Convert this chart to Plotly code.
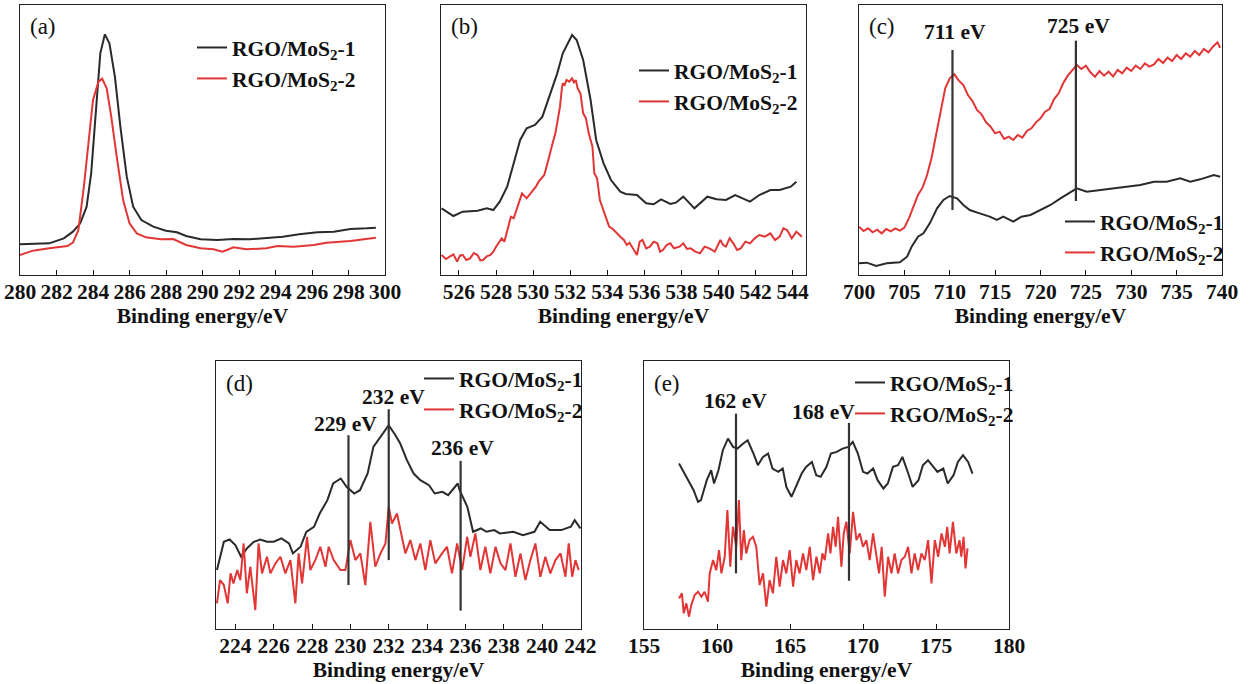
import plotly.graph_objects as go

# ---------------- data (intensity in arbitrary units) ----------------
# (a) C 1s
a_x1 = [280.0, 281.6, 282.4, 282.9, 283.3, 283.65, 283.9, 284.2, 284.4, 284.65, 284.9, 285.2, 285.5, 285.85,
        286.2, 286.65, 287.3, 288.0, 288.6, 289.1, 289.9, 290.8, 291.7, 292.6, 293.5, 294.4, 295.3, 296.3,
        297.2, 298.1, 299.0, 299.5]
a_y1 = [92, 95, 110, 130, 155, 205, 305, 525, 665, 722, 695, 595, 445, 295,
        205, 165, 145, 133, 128, 117, 107, 105, 108, 107, 110, 115, 122, 128,
        130, 138, 140, 142]
a_x2 = [280.0, 280.7, 281.6, 282.6, 282.9, 283.2, 283.5, 283.75, 284.0, 284.3, 284.5, 284.75, 285.0, 285.3,
        285.65, 286.0, 286.4, 286.9, 287.7, 288.4, 289.1, 289.9, 290.6, 291.1, 291.7, 292.4, 293.5, 294.1,
        295.0, 296.1, 296.8, 298.1, 299.5]
a_y2 = [60, 73, 80, 87, 97, 135, 265, 405, 525, 580, 589, 560, 475, 355,
        225, 155, 125, 113, 107, 108, 90, 80, 77, 70, 83, 77, 80, 87,
        85, 90, 97, 102, 112]

# (b) O 1s
b_x1 = [525.06, 525.7, 526.2, 527.0, 527.5, 527.85, 528.2, 528.6, 528.9, 529.3, 529.65, 530.1, 530.5, 530.8,
        531.3, 531.6, 532.1, 532.35, 532.7, 533.1, 533.4, 533.8, 534.2, 534.7, 535.0, 535.6, 536.1, 536.5,
        536.9, 537.4, 537.7, 538.1, 538.7, 539.4, 539.9, 540.4, 540.9, 541.3, 541.7, 542.2, 542.8, 543.3,
        543.9, 544.2]
b_y1 = [200, 177, 190, 193, 200, 195, 220, 265, 325, 405, 440, 450, 475, 525,
        605, 665, 720, 705, 645, 525, 405, 335, 285, 250, 243, 240, 215, 212,
        227, 213, 217, 235, 200, 235, 227, 225, 240, 230, 220, 240, 255, 255,
        265, 280]
b_x2 = [525.06, 525.3, 525.5, 525.7, 525.9, 526.05, 526.2, 526.4, 526.6, 526.8, 527.0, 527.15, 527.3, 527.5,
        527.7, 527.85, 528.0, 528.15, 528.3, 528.45, 528.6, 528.8, 528.95, 529.1, 529.25, 529.4, 529.65, 529.8,
        530.0, 530.15, 530.3, 530.45, 530.6, 530.75, 530.9, 531.05, 531.2, 531.35, 531.45, 531.55, 531.6, 531.7,
        531.8, 531.95, 532.1, 532.2, 532.3, 532.4, 532.55, 532.7, 532.85, 533.0, 533.1, 533.2, 533.3, 533.45,
        533.6, 533.75, 533.9, 534.0, 534.1, 534.3, 534.5, 534.7, 534.9, 535.05, 535.2, 535.4, 535.6, 535.75,
        535.9, 536.1, 536.3, 536.5, 536.7, 536.85, 537.0, 537.2, 537.4, 537.6, 537.9, 538.1, 538.3, 538.5,
        538.75, 539.0, 539.25, 539.5, 539.8, 540.1, 540.25, 540.4, 540.6, 540.8, 541.0, 541.2, 541.45, 541.7,
        541.95, 542.2, 542.5, 542.8, 543.05, 543.3, 543.5, 543.7, 543.95, 544.2, 544.5]
b_y2 = [60, 48, 55, 62, 40, 58, 60, 45, 50, 66, 60, 44, 45, 56,
        60, 70, 85, 98, 110, 100, 135, 175, 170, 195, 220, 245, 230, 240,
        255, 265, 280, 290, 300, 330, 365, 395, 425, 470, 505, 560, 575, 570,
        585, 580, 590, 578, 585, 560, 545, 485, 470, 425, 400, 385, 305, 290,
        225, 200, 175, 160, 145, 138, 125, 115, 105, 90, 97, 80, 60, 100,
        105, 80, 85, 100, 95, 70, 75, 90, 95, 80, 85, 95, 78, 80,
        70, 65, 85, 80, 70, 105, 90, 85, 110, 95, 75, 80, 100, 95,
        110, 120, 115, 125, 105, 115, 140, 135, 110, 130, 115]

# (c) Fe 2p
c_x1 = [700.0, 700.85, 701.9, 703.05, 704.5, 705.3, 705.8, 706.5, 707.1, 707.8, 708.6, 709.3, 710.0, 710.8,
        711.5, 712.2, 713.3, 714.4, 715.2, 715.9, 717.0, 717.9, 718.9, 720.0, 721.1, 722.2, 723.3, 724.0,
        725.1, 726.6, 728.1, 729.5, 731.0, 732.5, 733.9, 735.4, 736.5, 737.6, 739.1, 739.8]
c_y1 = [35, 37, 27, 35, 38, 55, 85, 115, 125, 155, 200, 225, 237, 230,
        210, 195, 185, 175, 165, 175, 160, 175, 180, 195, 210, 230, 247, 260,
        250, 255, 260, 265, 270, 280, 280, 290, 280, 287, 300, 295]
c_x2 = [700.0, 700.5, 701.0, 701.5, 702.0, 702.5, 703.0, 703.5, 704.0, 704.5, 705.0, 705.5, 706.0, 706.5,
        707.0, 707.5, 708.0, 708.5, 709.0, 709.5, 710.0, 710.5, 711.0, 711.5, 712.0, 712.5, 713.0, 713.5,
        714.0, 714.5, 715.0, 715.5, 716.0, 716.5, 717.0, 717.5, 718.0, 718.5, 719.0, 719.5, 720.0, 720.5,
        721.0, 721.5, 722.0, 722.5, 723.0, 723.5, 724.0, 724.5, 725.0, 725.5, 726.0, 726.5, 727.0, 727.5,
        728.0, 728.5, 729.0, 729.5, 730.0, 730.5, 731.0, 731.5, 732.0, 732.5, 733.0, 733.5, 734.0, 734.5,
        735.0, 735.5, 736.0, 736.5, 737.0, 737.5, 738.0, 738.5, 739.0, 739.5, 739.8]
c_y2 = [145, 132, 140, 128, 136, 125, 138, 131, 140, 133, 142, 170, 205, 240,
        262, 300, 352, 420, 490, 560, 590, 602, 583, 570, 540, 522, 495, 482,
        458, 445, 425, 430, 408, 415, 405, 420, 412, 432, 440, 458, 470, 490,
        498, 528, 545, 575, 598, 615, 630, 618, 628, 608, 595, 612, 598, 610,
        596, 615, 605, 622, 612, 628, 618, 635, 625, 632, 648, 636, 652, 642,
        660, 648, 665, 655, 672, 660, 678, 668, 685, 698, 682]

# (d) Mo 3d
d_x1 = [223.04, 223.4, 223.7, 224.0, 224.3, 224.6, 224.96, 225.3, 225.65, 226.0, 226.4, 226.8, 227.0, 227.4,
        227.7, 228.1, 228.4, 228.8, 229.1, 229.5, 229.8, 230.2, 230.5, 230.9, 231.2, 231.65, 232.0, 232.35,
        232.6, 232.95, 233.3, 233.65, 234.1, 234.4, 234.8, 235.1, 235.6, 235.7, 236.1, 236.4, 236.8, 237.1,
        237.5, 237.8, 238.5, 239.0, 239.6, 239.9, 240.4, 241.0, 241.5, 241.7, 242.0]
d_y1 = [177, 262, 269, 252, 217, 242, 262, 269, 262, 262, 272, 257, 227, 247,
        292, 307, 347, 387, 437, 452, 427, 407, 417, 467, 547, 582, 612, 582,
        557, 507, 467, 447, 432, 407, 412, 402, 437, 417, 367, 292, 302, 292,
        297, 287, 292, 282, 292, 322, 297, 297, 307, 327, 302]
d_x2 = [223.04, 223.2, 223.4, 223.6, 223.75, 223.9, 224.1, 224.26, 224.43, 224.6, 224.78, 225.04, 225.21, 225.39,
        225.65, 225.83, 226.09, 226.35, 226.61, 226.87, 227.13, 227.3, 227.48, 227.74, 227.91, 228.17, 228.43, 228.7,
        228.87, 229.13, 229.48, 229.74, 230.0, 230.26, 230.52, 230.78, 231.04, 231.3, 231.57, 231.83, 232.0, 232.17,
        232.43, 232.61, 232.87, 233.13, 233.39, 233.65, 233.91, 234.17, 234.43, 234.78, 235.04, 235.3, 235.57, 235.83,
        236.09, 236.26, 236.52, 236.78, 237.04, 237.3, 237.57, 237.83, 238.09, 238.35, 238.61, 238.87, 239.13, 239.39,
        239.65, 239.91, 240.17, 240.43, 240.7, 240.96, 241.22, 241.39, 241.57, 241.74, 241.91]
d_y2 = [77, 147, 132, 77, 167, 137, 177, 147, 257, 107, 187, 57, 257, 167,
        217, 167, 197, 217, 167, 207, 77, 227, 137, 277, 177, 207, 247, 187,
        247, 207, 177, 177, 267, 207, 227, 132, 322, 187, 227, 257, 367, 317,
        347, 297, 227, 267, 207, 257, 177, 267, 197, 227, 247, 167, 257, 177,
        277, 217, 287, 177, 247, 167, 247, 197, 177, 257, 157, 227, 147, 207,
        257, 157, 217, 167, 207, 227, 157, 257, 157, 207, 177]

# (e) S 2p
e_x1 = [157.4, 157.7, 158.0, 158.4, 158.7, 158.9, 159.3, 159.6, 159.8, 160.1, 160.4, 160.75, 161.1, 161.4,
        161.8, 162.1, 162.5, 162.8, 163.15, 163.5, 163.8, 164.2, 164.5, 164.75, 165.1, 165.4, 165.8, 166.1,
        166.5, 166.8, 167.1, 167.5, 167.8, 168.2, 168.6, 169.0, 169.3, 169.65, 170.0, 170.3, 170.7, 171.0,
        171.4, 171.7, 172.05, 172.4, 172.7, 173.1, 173.4, 173.8, 174.1, 174.45, 174.8, 175.1, 175.5, 175.8,
        176.2, 176.5, 176.85, 177.2, 177.5]
e_y1 = [497, 472, 447, 417, 382, 387, 447, 477, 437, 477, 537, 572, 547, 542,
        557, 567, 527, 492, 517, 527, 482, 472, 482, 427, 397, 427, 467, 487,
        502, 462, 457, 487, 527, 532, 542, 547, 562, 527, 472, 467, 482, 447,
        422, 437, 487, 492, 517, 467, 427, 447, 492, 507, 487, 472, 482, 437,
        462, 502, 522, 502, 467]
e_x2 = [157.4, 157.6, 157.72, 157.9, 158.08, 158.24, 158.47, 158.7, 158.93, 159.15, 159.38, 159.5, 159.73, 159.95,
        160.14, 160.3, 160.53, 160.71, 160.91, 161.09, 161.32, 161.5, 161.66, 161.84, 162.0, 162.23, 162.46, 162.69,
        162.92, 163.15, 163.38, 163.6, 163.83, 164.06, 164.29, 164.52, 164.75, 164.98, 165.21, 165.43, 165.66, 165.89,
        166.12, 166.35, 166.58, 166.81, 167.04, 167.22, 167.38, 167.61, 167.77, 167.95, 168.13, 168.29, 168.52, 168.68,
        168.86, 169.09, 169.32, 169.55, 169.78, 170.0, 170.23, 170.46, 170.69, 170.92, 171.1, 171.28, 171.49, 171.72,
        171.95, 172.17, 172.4, 172.63, 172.86, 173.09, 173.32, 173.54, 173.77, 174.0, 174.23, 174.46, 174.69, 174.92,
        175.15, 175.38, 175.61, 175.77, 175.93, 176.16, 176.39, 176.61, 176.73, 176.89, 177.02, 177.16]
e_y2 = [92, 107, 47, 77, 37, 72, 102, 112, 97, 112, 82, 167, 207, 177,
        237, 167, 217, 357, 187, 307, 247, 387, 207, 297, 227, 267, 277, 247,
        132, 167, 67, 147, 107, 217, 127, 207, 167, 237, 127, 207, 167, 227,
        177, 247, 147, 217, 167, 227, 207, 287, 227, 307, 247, 337, 187, 287,
        322, 227, 352, 267, 287, 247, 267, 207, 287, 217, 167, 247, 97, 217,
        167, 227, 167, 207, 217, 247, 167, 227, 177, 227, 207, 267, 137, 267,
        217, 287, 247, 307, 227, 322, 227, 267, 217, 277, 182, 242]

# peak markers: position, line bottom, line top, label, label height
c_peak_x = [710.3, 723.9]
c_peak_lo = [195, 222]
c_peak_hi = [675, 703]
c_peak_txt = ["711 eV", "725 eV"]
c_peak_txt_y = [728, 748]
c_peak_txt_x = [710.6, 724.2]

d_peak_x = [229.9, 232.0, 235.75]
d_peak_lo = [132, 207, 55]
d_peak_hi = [582, 660, 505]
d_peak_txt = ["229 eV", "232 eV", "236 eV"]
d_peak_txt_y = [617, 697, 545]
d_peak_txt_x = [229.75, 232.25, 235.85]

e_peak_x = [161.3, 169.04]
e_peak_lo = [167, 145]
e_peak_hi = [647, 619]
e_peak_txt = ["162 eV", "168 eV"]
e_peak_txt_y = [684, 652]
e_peak_txt_x = [161.3, 167.3]

# tick labels
a_ticks = [280, 282, 284, 286, 288, 290, 292, 294, 296, 298, 300]
b_ticks = [526, 528, 530, 532, 534, 536, 538, 540, 542, 544]
c_ticks = [700, 705, 710, 715, 720, 725, 730, 735, 740]
d_ticks = [224, 226, 228, 230, 232, 234, 236, 238, 240, 242]
e_ticks = [155, 160, 165, 170, 175, 180]

series_names = ["RGO/MoS<sub>2</sub>-1", "RGO/MoS<sub>2</sub>-2"]
panel_labels = ["(a)", "(b)", "(c)", "(d)", "(e)"]
x_title = "Binding energy/eV"
x_ranges = [[280, 300], [525.03, 544.72], [700, 740], [222.99, 242.03], [155, 180]]
y_ranges = [[0, 810], [0, 810], [0, 810], [0, 805], [0, 805]]
ticks_all = [a_ticks, b_ticks, c_ticks, d_ticks, e_ticks]

# ---------------- layout geometry (pixels) ----------------
W, H = 1252, 684
boxes = [  # left, right, top, bottom
    (20, 385, 5, 275),
    (441, 806, 5, 275),
    (859, 1222, 5, 275),
    (216, 581, 361, 629),
    (644, 1009, 361, 629),
]
legend_pos = [(192, 48), (634, 71), (1060, 222), (419, 379), (850, 383)]

BLACK = "#2a2a2a"
RED = "#e23636"
FONT = "Liberation Serif, Times New Roman, serif"
FS = 21.5

fig = go.Figure()

data = [
    (a_x1, a_y1, a_x2, a_y2),
    (b_x1, b_y1, b_x2, b_y2),
    (c_x1, c_y1, c_x2, c_y2),
    (d_x1, d_y1, d_x2, d_y2),
    (e_x1, e_y1, e_x2, e_y2),
]
peaks = {
    2: (c_peak_x, c_peak_lo, c_peak_hi, c_peak_txt, c_peak_txt_y, c_peak_txt_x),
    3: (d_peak_x, d_peak_lo, d_peak_hi, d_peak_txt, d_peak_txt_y, d_peak_txt_x),
    4: (e_peak_x, e_peak_lo, e_peak_hi, e_peak_txt, e_peak_txt_y, e_peak_txt_x),
}

annotations = []
for i, (x1, y1, x2, y2) in enumerate(data):
    n = "" if i == 0 else str(i + 1)
    xa, ya = "x" + n, "y" + n
    lg = "legend" + n
    fig.add_trace(go.Scatter(x=x1, y=y1, mode="lines", name=series_names[0],
                             line=dict(color=BLACK, width=2), xaxis=xa, yaxis=ya, legend=lg))
    fig.add_trace(go.Scatter(x=x2, y=y2, mode="lines", name=series_names[1],
                             line=dict(color=RED, width=2), xaxis=xa, yaxis=ya, legend=lg))
    if i in peaks:
        px, plo, phi, ptxt, pty, ptx = peaks[i]
        vx, vy = [], []
        for k in range(len(px)):
            vx += [px[k], px[k], None]
            vy += [plo[k], phi[k], None]
        fig.add_trace(go.Scatter(x=vx, y=vy, mode="lines", showlegend=False,
                                 line=dict(color="#333333", width=2.2), xaxis=xa, yaxis=ya,
                                 hoverinfo="skip"))
        for k in range(len(px)):
            annotations.append(dict(x=ptx[k], y=pty[k], xref=xa, yref=ya, text="<b>%s</b>" % ptxt[k],
                                    showarrow=False, font=dict(family=FONT, size=FS, color="#111"),
                                    xanchor="center", yanchor="middle"))
    l, r, t, b = boxes[i]
    annotations.append(dict(x=8 / (r - l), y=1 - 22 / (b - t), xref=xa + " domain", yref=ya + " domain",
                            text=panel_labels[i], showarrow=False, xanchor="left", yanchor="middle",
                            font=dict(family=FONT, size=23, color="#111")))

layout = dict(
    width=W, height=H, margin=dict(l=0, r=0, t=0, b=0, autoexpand=False),
    paper_bgcolor="white", plot_bgcolor="white",
    annotations=annotations,
)
for i in range(5):
    n = "" if i == 0 else str(i + 1)
    l, r, t, b = boxes[i]
    tv = ticks_all[i]
    layout["xaxis" + n] = dict(
        domain=[l / W, r / W], anchor="y" + n, range=x_ranges[i], automargin=False,
        tickmode="array", tickvals=tv, ticktext=["<b>%d</b>" % v for v in tv],
        ticks="inside", ticklen=5, tickwidth=1.2,
        tickcolor="#111", showline=True, linecolor="#222", linewidth=1.3, mirror=True,
        showgrid=False, zeroline=False, ticklabelstandoff=-3,
        tickfont=dict(family=FONT, size=FS, color="#111"),
        title=dict(text="<b>%s</b>" % x_title, standoff=2,
                   font=dict(family=FONT, size=FS, color="#111")),
    )
    layout["yaxis" + n] = dict(
        domain=[1 - b / H, 1 - t / H], anchor="x" + n, range=y_ranges[i], automargin=False,
        showticklabels=False, ticks="", showline=True, linecolor="#222", linewidth=1.3,
        mirror=True, showgrid=False, zeroline=False,
    )
    lx, ly = legend_pos[i]
    layout["legend" + n] = dict(
        x=lx / W, y=1 - (ly - 21) / H, xanchor="left", yanchor="top",
        bgcolor="rgba(0,0,0,0)", borderwidth=0,
        font=dict(family=FONT, size=FS, color="#111", weight="bold"),
    )

fig.update_layout(**layout)
fig.write_html("out.html")
